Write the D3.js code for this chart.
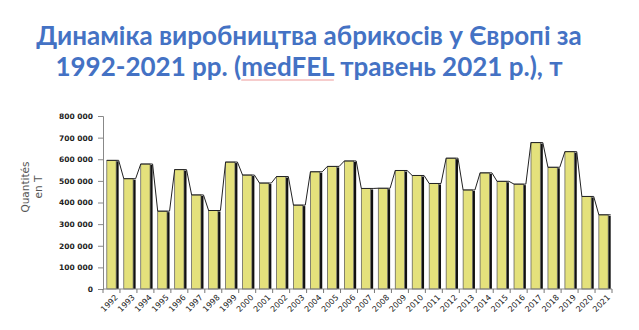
<!DOCTYPE html>
<html>
<head>
<meta charset="utf-8">
<script src="https://cdn.jsdelivr.net/npm/d3@7"></script>
<style>
  body { margin: 0; background: #fff; }
</style>
</head>
<body>
<div id="chart"></div>
<script>
// data
const years = ["1992","1993","1994","1995","1996","1997","1998","1999","2000","2001",
  "2002","2003","2004","2005","2006","2007","2008","2009","2010","2011",
  "2012","2013","2014","2015","2016","2017","2018","2019","2020","2021"];
const tonnes = [595000, 510000, 578000, 360000, 552000, 435000, 363000, 587000, 527000, 490000,
  520000, 388000, 542000, 567000, 592000, 465000, 466000, 548000, 525000, 488000,
  605000, 458000, 537000, 498000, 485000, 677000, 563000, 635000, 428000, 343000];
const yTicks = [0, 100000, 200000, 300000, 400000, 500000, 600000, 700000, 800000];
const titleLines = ["Динаміка виробництва абрикосів у Європі за", "1992-2021 рр. (medFEL травень 2021 р.), т"];

const width = 639, height = 330;
const svg = d3.select("#chart").append("svg")
  .attr("width", width)
  .attr("height", height)
  .style("background", "#fff");

// title
const title = svg.append("text")
  .attr("text-anchor", "middle")
  .style("font-family", "Lato, 'Open Sans', sans-serif")
  .style("font-weight", "bold")
  .style("font-size", "26px")
  .style("fill", "#4472C4");
title.selectAll("tspan")
  .data(titleLines)
  .join("tspan")
  .attr("x", 309)
  .attr("y", (d, i) => 45 + i * 31)
  .text(d => d);

// red spell-check underline under "medFEL"
const line2 = title.selectAll("tspan").nodes()[1];
const s = titleLines[1].indexOf("medFEL");
const startX = line2.getStartPositionOfChar(s).x;
const endX = line2.getEndPositionOfChar(s + 5).x;
svg.append("line")
  .attr("x1", startX).attr("x2", endX)
  .attr("y1", 80).attr("y2", 80)
  .attr("stroke", "#e99")
  .attr("stroke-width", 1);

const x = d3.scaleBand()
  .domain(years)
  .range([103, 612])
  .paddingInner(0.45)
  .paddingOuter(0.225);

const y = d3.scaleLinear()
  .domain([0, 800000])
  .range([289, 116]);

const bw = x.bandwidth();
const shadow = 2.5;

// y axis
const yAxis = svg.append("g")
  .attr("transform", "translate(103,0)")
  .call(d3.axisLeft(y)
    .tickValues(yTicks)
    .tickSize(5)
    .tickPadding(5)
    .tickFormat(d => d3.format(",")(d).replace(/,/g, " ")));
yAxis.select(".domain").attr("stroke", "#888");
yAxis.selectAll(".tick line").attr("stroke", "#888");
yAxis.selectAll("text")
  .style("font-family", "'DejaVu Sans', Verdana, sans-serif")
  .style("font-size", "7.5px")
  .style("font-weight", "bold")
  .style("fill", "#222");

// bars: yellow face + dark side
const bars = svg.append("g");
bars.selectAll(".side")
  .data(years)
  .join("rect")
  .attr("class", "side")
  .attr("x", d => x(d) + bw)
  .attr("y", (d, i) => y(tonnes[i]) + 1)
  .attr("width", shadow)
  .attr("height", (d, i) => y(0) - y(tonnes[i]) - 1)
  .attr("fill", "#111");

bars.selectAll(".face")
  .data(years)
  .join("rect")
  .attr("class", "face")
  .attr("x", d => x(d))
  .attr("y", (d, i) => y(tonnes[i]))
  .attr("width", bw)
  .attr("height", (d, i) => y(0) - y(tonnes[i]))
  .attr("fill", "#e4e17c")
  .attr("stroke", "#555")
  .attr("stroke-width", 0.7);

// connecting line along bar tops
const pts = [];
years.forEach((d, i) => {
  pts.push([x(d), y(tonnes[i])]);
  pts.push([x(d) + bw + shadow, y(tonnes[i])]);
});
svg.append("path")
  .attr("d", d3.line()(pts))
  .attr("fill", "none")
  .attr("stroke", "#222")
  .attr("stroke-width", 1);

// x axis with ticks between categories
const xAxis = svg.append("g")
  .attr("transform", `translate(0,${y(0)})`);
xAxis.append("line")
  .attr("x1", 103).attr("x2", 612)
  .attr("stroke", "#888");
const step = x.step();
xAxis.selectAll(".tk")
  .data(d3.range(years.length + 1))
  .join("line")
  .attr("class", "tk")
  .attr("x1", i => x(years[0]) - step * x.paddingInner() / 2 + i * step)
  .attr("x2", i => x(years[0]) - step * x.paddingInner() / 2 + i * step)
  .attr("y1", 0).attr("y2", 4)
  .attr("stroke", "#777");
xAxis.selectAll(".lbl")
  .data(years)
  .join("text")
  .attr("class", "lbl")
  .attr("transform", d => `translate(${x(d) + bw / 2 + 5},${7}) rotate(-45)`)
  .attr("text-anchor", "end")
  .attr("dy", "0.35em")
  .style("font-family", "'DejaVu Sans', Verdana, sans-serif")
  .style("font-size", "8px")
  .style("fill", "#222")
  .text(d => d);

// y label
const yl = svg.append("text")
  .attr("transform", "translate(29,187) rotate(-90)")
  .attr("text-anchor", "middle")
  .style("font-family", "'DejaVu Sans', Verdana, sans-serif")
  .style("font-size", "10.5px")
  .style("fill", "#555");
yl.append("tspan").attr("x", 0).attr("y", 0).text("Quantités");
yl.append("tspan").attr("x", 0).attr("y", 13).text("en T");
</script>
</body>
</html>
